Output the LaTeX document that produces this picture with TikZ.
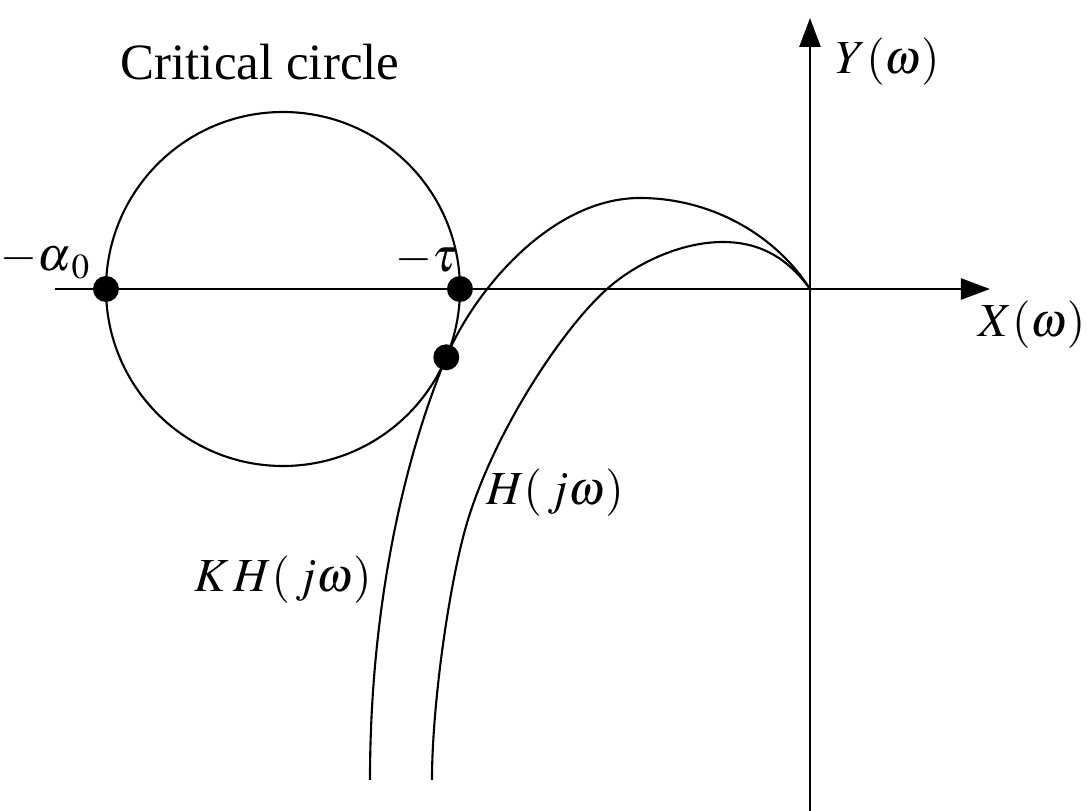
\documentclass[tikz,border=0pt]{standalone}
\usepackage{mathptmx}
\usepackage{fontspec}
\setmainfont{Liberation Serif}
\usepackage{tikz}
\usetikzlibrary{arrows.meta, positioning}

\begin{document}
\begin{tikzpicture}[
  every node/.style={font=\fontsize{13.5}{16}\selectfont, inner sep=1pt},
  curve/.style={line width=0.6pt},
  axis/.style={line width=0.7pt, -{Triangle[length=2.9mm,width=2.1mm]}},
  dot/.style={circle, fill=black, minimum size=2.6mm, inner sep=0pt}
]
\useasboundingbox (-8.10,-5.22) rectangle (2.77,2.89);
% axes
\coordinate (o) at (0,0);
\coordinate (xl) at (-7.55,0);
\coordinate (xr) at (1.80,0);
\coordinate (yb) at (0,-5.22);
\coordinate (yt) at (0,2.71);
\draw[axis] (xl) -- (xr);
\draw[axis] (yb) -- (yt);
% critical circle
\coordinate (cc) at (-5.27,0);
\draw[line width=0.6pt] (cc) circle (1.77);
% points on the circle
\node[dot] (alpha) at (-7.04,0) {};
\node[dot] (tau) at (-3.50,0) {};
\node[dot] (touch) at (-3.637,-0.683) {};
% K H(jw)
\draw[curve] (o) .. controls (-0.35,0.55) and (-1.0,0.91) .. (-1.70,0.91)
  .. controls (-2.6,0.91) and (-3.37,-0.04) .. (touch.center)
  .. controls (-4.10,-1.79) and (-4.40,-3.3) .. (-4.40,-4.91);
% H(jw)
\draw[curve] (o) .. controls (-0.25,0.35) and (-0.55,0.47) .. (-0.87,0.47)
  .. controls (-1.3,0.47) and (-1.75,0.25) .. (-2.03,0)
  .. controls (-2.5,-0.42) and (-3.2,-1.5) .. (-3.45,-2.41)
  .. controls (-3.625,-3.05) and (-3.78,-4.2) .. (-3.78,-4.91);
% labels
\node[font=\fontsize{14.5}{17}\selectfont] (crit) at (-5.50,2.27) {Critical circle};
\node (lalpha) at (-7.64,0.28) {$-\alpha_{\,0}$};
\node (ltau) at (-3.84,0.29) {$-\tau$};
\node (ly) at (0.78,2.27) {$Y(\omega)$};
\node (lx) at (2.22,-0.36) {$X(\omega)$};
\node (lh) at (-2.55,-2.04) {$H(\,j\omega)$};
\node (lkh) at (-5.27,-2.91) {$K\,H(\,j\omega)$};
\end{tikzpicture}
\end{document}
